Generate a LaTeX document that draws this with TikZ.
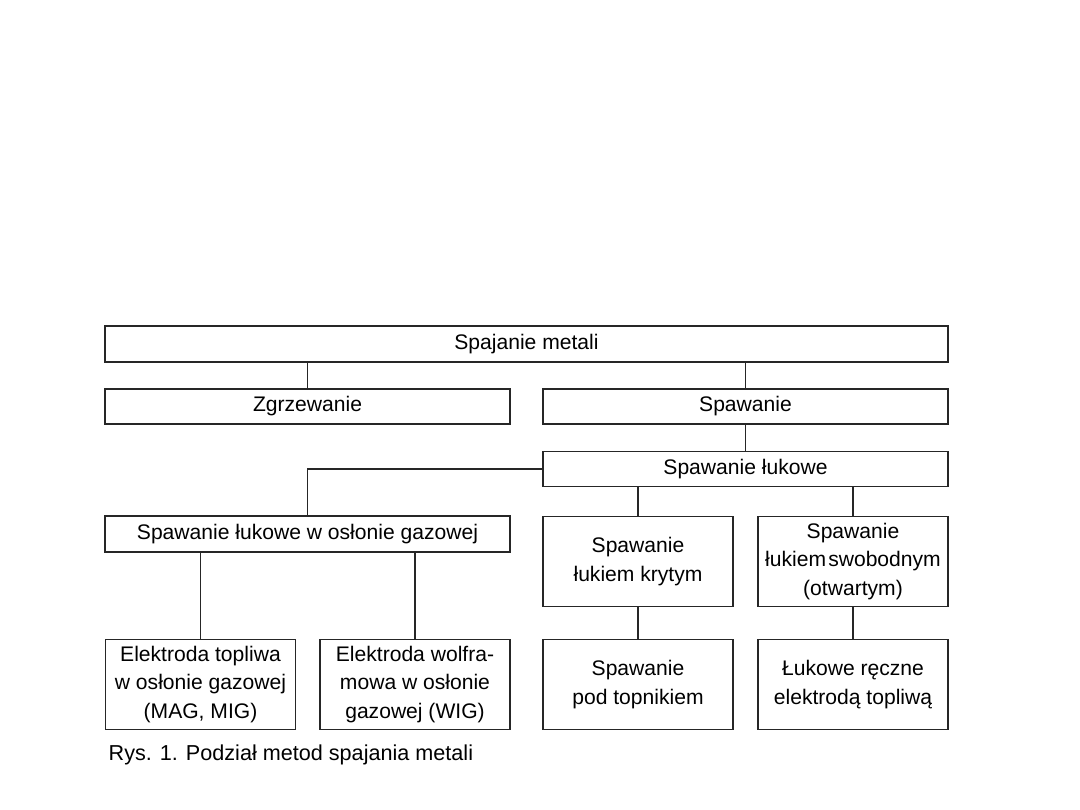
\documentclass[tikz,border=0pt]{standalone}
\usepackage{fontspec}
\setmainfont{Liberation Sans}
\usepackage{tikz}
\usetikzlibrary{positioning}

\begin{document}
\begin{tikzpicture}[
  line width=0.8pt,
  box/.style={draw=black!85,align=center,inner sep=0pt,font=\fontsize{12}{16}\selectfont},
  widebox/.style={box,minimum width=8.1cm,minimum height=0.7cm},
  smallbox/.style={box,minimum width=3.8cm,minimum height=1.8cm},
  link/.style={draw=black!85}
]
\useasboundingbox (0,0) rectangle (21.6,-16.2);
\node[box,minimum width=16.86cm,minimum height=0.72cm] (metal) at (10.53,-6.88) {Spajanie metali};
\node[widebox] (zgrz) at (6.15,-8.13) {Zgrzewanie};
\node[widebox] (spaw) at (14.91,-8.13) {Spawanie};
\node[widebox] (luk) at (14.91,-9.38) {Spawanie łukowe};
\node[widebox,minimum height=0.72cm] (gaz) at (6.15,-10.68) {Spawanie łukowe w osłonie gazowej};
\node[smallbox] (kryt) at (12.76,-11.23) {Spawanie\\łukiem krytym};
\node[smallbox] (swob) at (17.06,-11.23) {Spawanie\\łukiem\hspace{0.1em}swobodnym\\(otwartym)};
\node[smallbox] (topl) at (4.01,-13.69) {Elektroda topliwa\\w osłonie gazowej\\(MAG, MIG)};
\node[smallbox] (wolf) at (8.30,-13.69) {Elektroda wolfra-\\mowa w osłonie\\gazowej (WIG)};
\node[smallbox] (pod) at (12.76,-13.69) {Spawanie\\pod topnikiem};
\node[smallbox] (recz) at (17.06,-13.69) {Łukowe ręczne\\elektrodą topliwą};
\node[anchor=west,inner sep=0pt,font=\fontsize{12.3}{16}\selectfont] (rys) at (2.16,-15.1) {Rys. 1. Podział metod spajania metali};
\draw[link] (zgrz.north |- metal.south) -- (zgrz.north);
\draw[link] (spaw.north |- metal.south) -- (spaw.north);
\draw[link] (spaw) -- (luk);
\draw[link] (luk.west) -| (gaz.north);
\draw[link] (kryt.north |- luk.south) -- (kryt.north);
\draw[link] (swob.north |- luk.south) -- (swob.north);
\draw[link] (topl.north |- gaz.south) -- (topl.north);
\draw[link] (wolf.north |- gaz.south) -- (wolf.north);
\draw[link] (kryt) -- (pod);
\draw[link] (swob) -- (recz);
\end{tikzpicture}
\end{document}
